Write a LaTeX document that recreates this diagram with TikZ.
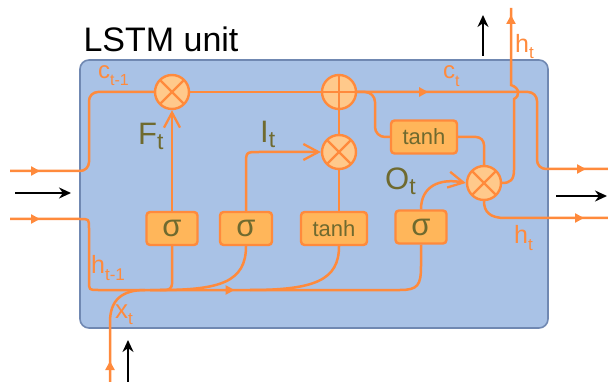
\documentclass[tikz,border=0pt]{standalone}
\usepackage{fontspec}
\setmainfont{Liberation Sans}
\usetikzlibrary{arrows.meta,decorations.markings}
\definecolor{lo}{HTML}{FF8A3C}
\definecolor{cfill}{HTML}{FFC98B}
\definecolor{bfill}{HTML}{FFB65A}
\definecolor{olive}{HTML}{6F6A2F}
\definecolor{bg}{HTML}{A9C2E6}
\definecolor{bgline}{HTML}{7088B2}
\newcommand{\mylbl}[5]{{\fontsize{#3}{#3}\selectfont #1}{\fontsize{#4}{#4}\selectfont\raisebox{-#5}{#2}}}
\begin{document}
\begin{tikzpicture}[x=1pt,y=-1pt,
  wire/.style={draw=lo,line width=2.5pt},
  amark/.style={postaction={decorate},decoration={markings,mark=at position #1 with {\arrow[color=lo]{Triangle[length=9pt,width=9pt]}}}},
  bmark/.style 2 args={postaction={decorate},decoration={markings,mark=at position #1 with {\arrow[color=lo]{Triangle[length=9pt,width=9pt]}},mark=at position #2 with {\arrow[color=lo]{Triangle[length=9pt,width=9pt]}}}},
  opentip/.style={-{Straight Barb[length=15pt,width=16pt,line width=2.3pt]}},
  blackarr/.style={draw=black,line width=1.7pt,-{Stealth[length=12pt,width=11pt]}},
  mulc/.style={circle,draw=lo,fill=cfill,line width=2.4pt,minimum size=34pt,inner sep=0pt,
    path picture={\draw[lo,line width=2.4pt] (path picture bounding box.north west)--(path picture bounding box.south east) (path picture bounding box.north east)--(path picture bounding box.south west);}},
  addc/.style={circle,draw=lo,fill=cfill,line width=2.4pt,minimum size=34pt,inner sep=0pt,
    path picture={\draw[lo,line width=2.4pt] (path picture bounding box.north)--(path picture bounding box.south) (path picture bounding box.east)--(path picture bounding box.west);}},
  gatebox/.style={draw=lo,fill=bfill,line width=2.4pt,rounded corners=3.5pt,minimum height=33pt,inner sep=0pt,text=olive},
  sig/.style={gatebox,minimum width=51pt,font=\fontsize{31}{31}\selectfont},
  tnh/.style={gatebox,minimum width=66pt,font=\fontsize{22}{22}\selectfont},
  cellbox/.style={draw=bgline,fill=bg,line width=1.6pt,rounded corners=9pt,minimum width=468pt,minimum height=268pt,inner sep=0pt},
]
\useasboundingbox (0,0) rectangle (608,382);
\node[cellbox] (cell) at (314,194) {};
\node[anchor=base west,font=\fontsize{34}{34}\selectfont] (ttl) at (80,52) {LSTM unit};

% operators
\node[mulc] (fm) at (172,92) {};
\node[addc] (pl) at (339,92) {};
\node[mulc] (im) at (339,152) {};
\node[mulc] (om) at (484,183) {};

% gate boxes
\node[sig] (s1) at (172,228.5) {σ};
\node[sig,minimum width=52pt] (s2) at (246,228.5) {σ};
\node[tnh] (t3) at (334,228.5) {tanh};
\node[sig] (s4) at (421,227) {σ};
\node[tnh] (tb) at (424,137) {tanh};

% endpoints
\coordinate (cin) at (10,171);
\coordinate (cout) at (608,169);
\coordinate (hin) at (10,219);
\coordinate (hout) at (608,218);
\coordinate (hup) at (511,8);
\coordinate (xin) at (110,382);

% cell state
\draw[wire,rounded corners=9pt,amark=30pt] (cin) -- (89,171) -- (89,92) -- (fm.west);
\draw[wire] (fm.east) -- (pl.west);
\draw[wire,rounded corners=9pt,bmark={71pt}{-22pt}] (pl.east) -- (537,92) -- (537,169) -- (cout);
\draw[wire,rounded corners=10pt] (pl.east) -- (375,92) -- (375,137) -- (tb.west);
\draw[wire,rounded corners=8pt] (tb.east) -- (484,137) -- (om.north);
\draw[wire] (pl.south) -- (im.north);

% outputs
\draw[wire,amark=-7pt] (om.east) .. controls (510,183) and (514,180) .. (514,170) -- (514,99)
  .. controls (520,96) and (520,88) .. (511,85) -- (hup);
\draw[wire,amark=-24pt] (om.south) .. controls (484,212) and (490,218) .. (505,218) -- (hout);

% h_{t-1} and bus
\draw[wire,bmark={30pt}{292pt}] (hin) -- (80,219) .. controls (89,219) .. (89,228) -- (89,281)
  .. controls (89,290) .. (98,290) -- (400,290) .. controls (418,290) and (421,285) .. (421,266) -- (s4.south);
\draw[wire,amark=21pt] (xin) -- (110,322) .. controls (110,300) and (122,290) .. (145,290);

% gate connections
\draw[wire,opentip] (s1.north) -- (fm.south);
\draw[wire,rounded corners=6pt] (s1.south) -- (172,290) -- (150,290);
\draw[wire,opentip] (s2.north) -- (246,165) .. controls (246,152) .. (259,152) -- (im.west);
\draw[wire] (s2.south) .. controls (246,282) and (220,290) .. (160,290);
\draw[wire] (t3.north -| im.south) -- (im.south);
\draw[wire] (t3.south -| im.south) .. controls (339,280) and (315,290) .. (250,290);
\draw[wire,opentip] (s4.north) .. controls (421,186) and (440,178) .. (om.west);

% black arrows
\coordinate (bl1) at (15,193); \coordinate (bl2) at (71,193);
\coordinate (br1) at (556,196); \coordinate (br2) at (607,196);
\coordinate (bt1) at (483,56); \coordinate (bt2) at (483,15);
\coordinate (bb1) at (128,382); \coordinate (bb2) at (128,340);
\draw[blackarr] (bl1) -- (bl2);
\draw[blackarr] (br1) -- (br2);
\draw[blackarr] (bt1) -- (bt2);
\draw[blackarr] (bb1) -- (bb2);

% labels
\node[anchor=base west,text=lo,inner sep=0pt] (lc1) at (98,79) {\mylbl{c}{t-1}{24}{16}{7pt}};
\node[anchor=base west,text=lo,inner sep=0pt] (lct) at (443,79) {\mylbl{c}{t}{24}{16}{8pt}};
\node[anchor=base west,text=lo,inner sep=0pt] (lht) at (515,53) {\mylbl{h}{t}{25}{17}{6pt}};
\node[anchor=base west,text=lo,inner sep=0pt] (lhb) at (514,244) {\mylbl{h}{t}{25}{17}{6pt}};
\node[anchor=base west,text=lo,inner sep=0pt] (lh1) at (91,274) {\mylbl{h}{t-1}{25}{17}{6pt}};
\node[anchor=base west,text=lo,inner sep=0pt] (lx) at (115,318) {\mylbl{x}{t}{26}{17}{6pt}};
\node[anchor=base west,text=olive,inner sep=0pt] (lF) at (138,145) {\mylbl{F}{t}{31}{23}{5pt}};
\node[anchor=base west,text=olive,inner sep=0pt] (lI) at (260,143) {\mylbl{I}{t}{31}{23}{5pt}};
\node[anchor=base west,text=olive,inner sep=0pt] (lO) at (385,190) {\mylbl{O}{t}{31}{23}{5pt}};
\end{tikzpicture}
\end{document}
